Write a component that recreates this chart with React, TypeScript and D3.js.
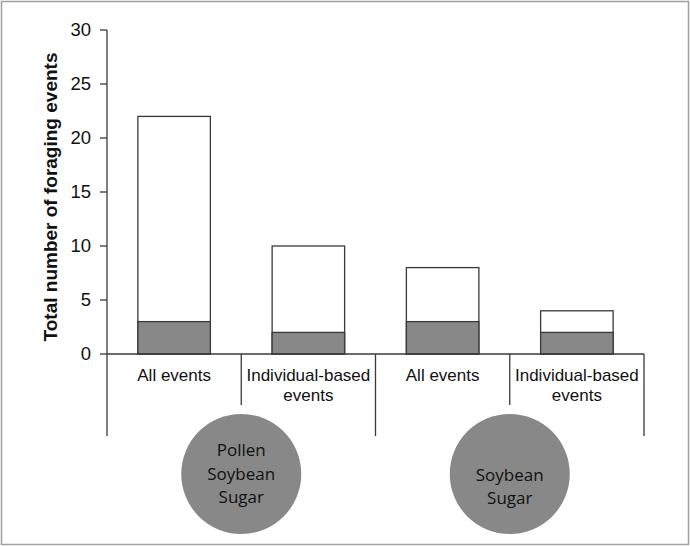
import React from "react";
import * as d3 from "d3";

const groups = ["Pollen\nSoybean\nSugar", "\nSoybean\nSugar"];
const categories = ["All events", "Individual-based\nevents", "All events", "Individual-based\nevents"];
const totalValues = [22, 10, 8, 4];
const individualValues = [3, 2, 3, 2];
const yTicks = [0, 5, 10, 15, 20, 25, 30];
const yLabel = "Total number of foraging events";

export default function App() {
  const W = 690, H = 546;
  const x0 = 107, x1 = 644, yTop = 30, yBase = 354;
  const y = d3.scaleLinear().domain([0, 30]).range([yBase, yTop]);
  const x = d3.scaleBand().domain(categories.map((_, i) => String(i))).range([x0, x1]).paddingInner(0).paddingOuter(0);
  const bw = x.bandwidth() * 0.54;
  const stroke = "#3a3a3a";
  const grey = "#888888";
  const font = "Liberation Sans, Arial, sans-serif";
  const groupW = (x1 - x0) / 2;

  return (
    <svg width={W} height={H} style={{ position: "absolute", left: 0, top: 0, background: "#fff" }}>
      <rect x={1.5} y={1.5} width={W - 3} height={H - 3} fill="#fff" stroke="#a0a0a0" strokeWidth={1.5} />
      {/* y axis */}
      <line x1={x0} x2={x0} y1={yTop} y2={yBase} stroke={stroke} strokeWidth={1.3} />
      {yTicks.map((t) => (
        <g key={t}>
          <line x1={x0 - 7} x2={x0} y1={y(t)} y2={y(t)} stroke={stroke} strokeWidth={1.3} />
          <text x={91} y={y(t)} dy="0.35em" textAnchor="end" fontFamily={font} fontSize={18.5} fill="#111">{t}</text>
        </g>
      ))}
      <text transform={`translate(57,197) rotate(-90)`} textAnchor="middle" fontFamily={font} fontWeight="bold" fontSize={19} fill="#111">{yLabel}</text>
      {/* bars */}
      {categories.map((c, i) => {
        const cx = (x(String(i)) as number) + x.bandwidth() / 2;
        return (
          <g key={i}>
            <rect x={cx - bw / 2} y={y(totalValues[i])} width={bw} height={yBase - y(totalValues[i])} fill="#fff" stroke={stroke} strokeWidth={1.3} />
            <rect x={cx - bw / 2} y={y(individualValues[i])} width={bw} height={yBase - y(individualValues[i])} fill={grey} stroke={stroke} strokeWidth={1.3} />
            {c.split("\n").map((ln, j) => (
              <text key={j} x={cx} y={375 + j * 20} dy="0.35em" textAnchor="middle" fontFamily={font} fontSize={17} fill="#111">{ln}</text>
            ))}
          </g>
        );
      })}
      {/* baseline and separators */}
      <line x1={x0} x2={x1} y1={yBase} y2={yBase} stroke={stroke} strokeWidth={1.3} />
      {categories.map((_, i) => {
        const bx = x(String(i)) as number;
        const long = i % 2 === 0;
        return <line key={i} x1={bx} x2={bx} y1={yBase} y2={long ? 436 : 405} stroke={stroke} strokeWidth={1.3} />;
      })}
      <line x1={x1} x2={x1} y1={yBase} y2={436} stroke={stroke} strokeWidth={1.3} />
      {/* group circles */}
      {groups.map((g, gi) => {
        const cx = x0 + groupW * gi + groupW / 2;
        const cy = 474;
        const lines = g.split("\n");
        return (
          <g key={gi}>
            <circle cx={cx} cy={cy} r={60} fill={grey} />
            {lines.map((ln, j) => (
              <text key={j} x={cx} y={cy + (j - 1) * 23.5 + (gi === 1 ? 1 : 0)} dy="0.35em" textAnchor="middle" fontFamily="Open Sans, Noto Sans, sans-serif" fontSize={17} fill="#111">{ln}</text>
            ))}
          </g>
        );
      })}
    </svg>
  );
}
